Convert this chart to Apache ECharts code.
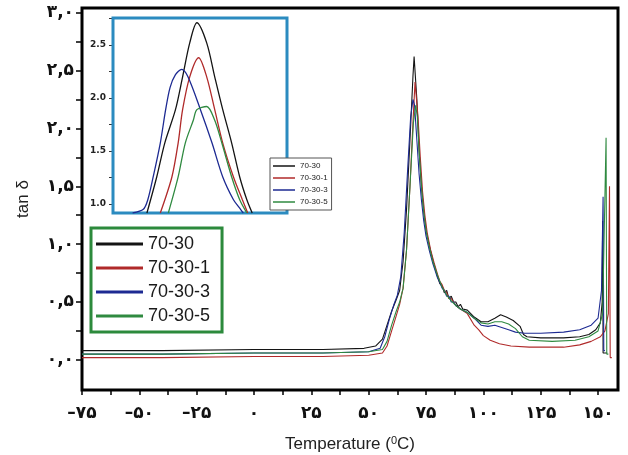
<!DOCTYPE html>
<html>
<head>
<meta charset="utf-8">
<script src="https://cdn.jsdelivr.net/npm/echarts@6/dist/echarts.min.js"></script>
<style>
html, body { margin: 0; padding: 0; background: #fff; }
#chart { width: 628px; height: 455px; }
</style>
</head>
<body>
<div id="chart"></div>
<script>
// series names
var seriesNames = ['70-30', '70-30-1', '70-30-3', '70-30-5'];
var seriesColors = ['#141414', '#b02a2a', '#1d2a92', '#2f8a40'];

// main plot, [temperature, tan d]
var d7030 = [[-75,0.08],[-40,0.08],[0,0.09],[30,0.09],[48,0.1],[53,0.12],[56,0.18],[58,0.3],[60,0.42],[62,0.52],[63.5,0.6],[65,0.85],[66.5,1.3],[68,1.9],[69.3,2.45],[69.8,2.62],[70.4,2.62],[71,2.25],[72,1.8],[73,1.5],[74,1.28],[75,1.12],[76.5,0.98],[78,0.86],[80,0.72],[81,0.66],[82,0.64],[83,0.58],[84,0.6],[85,0.53],[86,0.55],[87,0.5],[88,0.5],[89,0.46],[90,0.48],[91,0.44],[93,0.43],[96,0.37],[99,0.33],[102,0.33],[105,0.36],[107.5,0.39],[110,0.37],[113,0.34],[116,0.29],[117.5,0.22],[119,0.2],[125,0.19],[135,0.19],[142,0.2],[146,0.22],[149,0.26],[151,0.32],[151.8,0.5],[152,1.2],[152.2,0.06],[154,0.06]];
var d70301 = [[-75,0.02],[-40,0.02],[0,0.03],[30,0.03],[50,0.04],[56,0.06],[58,0.12],[60,0.25],[62,0.38],[63.5,0.48],[65,0.62],[66.5,0.95],[68,1.5],[69.3,2.05],[70.2,2.4],[70.8,2.4],[71.5,2.1],[72.5,1.75],[73.5,1.45],[74.5,1.25],[75.5,1.1],[77,0.95],[78.5,0.84],[80,0.74],[81,0.68],[82,0.65],[83,0.6],[84,0.58],[85,0.53],[86,0.53],[88,0.47],[90,0.44],[93,0.4],[96,0.3],[98,0.26],[100,0.21],[103,0.17],[107,0.14],[112,0.12],[120,0.11],[135,0.11],[142,0.13],[147,0.16],[151,0.2],[153,0.25],[154.5,0.4],[155,1.5],[155.3,0.02],[156,0.02]];
var d70303 = [[-75,0.05],[-40,0.05],[0,0.06],[30,0.06],[50,0.07],[55,0.1],[57,0.2],[59,0.35],[61,0.48],[62.5,0.56],[64,0.72],[65.5,1.1],[67,1.65],[68.3,2.1],[69.3,2.25],[70,2.2],[71,1.9],[72,1.6],[73,1.38],[74,1.2],[75,1.07],[76.5,0.94],[78,0.83],[80,0.71],[81,0.67],[82,0.62],[83,0.6],[84,0.55],[85,0.55],[86,0.5],[87,0.5],[88,0.47],[90,0.44],[93,0.41],[96,0.36],[99,0.3],[102,0.29],[105,0.3],[108,0.28],[111,0.26],[114,0.24],[118,0.23],[125,0.23],[135,0.24],[142,0.26],[147,0.3],[150,0.36],[151.5,0.6],[152.2,1.41],[152.5,0.08],[153,0.08]];
var d70305 = [[-75,0.05],[-40,0.05],[0,0.06],[30,0.06],[50,0.07],[56,0.09],[58,0.16],[60,0.3],[62,0.42],[63.5,0.5],[65,0.62],[66.5,0.95],[68,1.5],[69.5,2.05],[70.5,2.2],[71.2,2.1],[72,1.8],[73,1.5],[74,1.28],[75,1.12],[76.5,0.97],[78,0.85],[80,0.73],[82,0.63],[84,0.56],[86,0.51],[88,0.47],[90,0.44],[93,0.41],[96,0.36],[99,0.32],[102,0.31],[105,0.33],[108,0.33],[111,0.31],[114,0.27],[117,0.2],[120,0.17],[130,0.16],[140,0.17],[146,0.2],[150,0.25],[152,0.4],[153.5,1.92],[153.8,0.05],[154.5,0.05]];

// inset plot (zoom on the peak)
var i7030 = [[64.3,0.915],[65.4,1.255],[66.3,1.575],[67.5,1.89],[68.3,2.2],[69.1,2.52],[69.9,2.71],[71.0,2.52],[71.9,2.2],[72.8,1.89],[73.8,1.575],[74.7,1.255],[75.5,1.04],[76.1,0.915]];
var i70301 = [[65.8,0.915],[67.1,1.255],[67.8,1.575],[68.3,1.89],[69.1,2.2],[70.1,2.38],[71.0,2.2],[71.9,1.89],[72.8,1.575],[74.0,1.255],[75.0,1.04],[75.6,0.915]];
var i70303 = [[62.7,0.915],[63.9,0.95],[64.4,1.04],[65.0,1.255],[65.8,1.575],[66.4,1.89],[66.9,2.1],[67.5,2.22],[68.2,2.27],[68.9,2.2],[70.3,1.89],[71.6,1.575],[72.8,1.255],[74.0,1.04],[74.7,0.96],[75.1,0.915]];
var i70305 = [[66.7,0.915],[67.8,1.255],[68.6,1.575],[69.5,1.79],[69.9,1.89],[71.0,1.92],[71.9,1.79],[72.7,1.575],[73.8,1.255],[74.7,1.04],[75.5,0.915]];

var xTicks = [-75,-62.5,-50,-37.5,-25,-12.5,0,12.5,25,37.5,50,62.5,75,87.5,100,112.5,125,137.5,150];
var xLabels = [-75,-50,-25,0,25,50,75,100,125,150];
var yTicks = [0,0.25,0.5,0.75,1,1.25,1.5,1.75,2,2.25,2.5,2.75,3];
var yLabels = [0,0.5,1,1.5,2,2.5,3];
var insetTicks = [1,1.25,1.5,1.75,2,2.25,2.5,2.75];
var insetLabels = [1,1.5,2,2.5];

var faDigits = ['۰','۱','۲','۳','۴','۵','۶','۷','۸','۹'];
function toFa(s) {
    return String(s).replace(/[0-9]/g, function (c) { return faDigits[+c]; });
}

var chart = echarts.init(document.getElementById('chart'));

var mainData = [d7030, d70301, d70303, d70305];
var insetData = [i7030, i70301, i70303, i70305];
var series = [];
mainData.forEach(function (d, i) {
    series.push({
        name: seriesNames[i], type: 'line', xAxisIndex: 0, yAxisIndex: 0,
        data: d, showSymbol: false, symbol: 'none',
        lineStyle: { color: seriesColors[i], width: 1.1 },
        itemStyle: { color: seriesColors[i] }
    });
});
insetData.forEach(function (d, i) {
    series.push({
        name: seriesNames[i], type: 'line', xAxisIndex: 1, yAxisIndex: 1,
        data: d, showSymbol: false, symbol: 'none', smooth: 0.3,
        lineStyle: { color: seriesColors[i], width: 1.3 },
        itemStyle: { color: seriesColors[i] },
        z: 5
    });
});

var option = {
    animation: false,
    grid: [
        { left: 82, top: 8, width: 536, height: 382, outerBoundsMode: 'none', show: true, borderColor: '#000', borderWidth: 3, backgroundColor: 'transparent' },
        { left: 113, top: 18, width: 174, height: 195, outerBoundsMode: 'none', show: true, borderColor: '#2b8bc0', borderWidth: 3, backgroundColor: '#fff', z: 3 }
    ],
    xAxis: [
        {
            gridIndex: 0, type: 'value', min: -75, max: 158.7,
            name: '{t|Temperature (}{s|0}{t|C)}', nameLocation: 'middle', nameGap: 45,
            nameTextStyle: {
                rich: {
                    t: { fontFamily: 'Liberation Sans', fontSize: 17, color: '#222' },
                    s: { fontFamily: 'Liberation Sans', fontSize: 11, color: '#222', verticalAlign: 'top', padding: [0, 0, 8, 0] }
                }
            },
            axisLine: { show: false, onZero: false },
            splitLine: { show: false },
            axisTick: { show: true, inside: false, length: 5, customValues: xTicks, lineStyle: { color: '#000', width: 1.5 } },
            axisLabel: {
                customValues: xLabels, margin: 15,
                fontFamily: 'DejaVu Sans', fontWeight: 'bold', fontSize: 17, color: '#111',
                formatter: function (v) { return v < 0 ? '–' + toFa(-v) : toFa(v); }
            }
        },
        {
            gridIndex: 1, type: 'value', min: 60.5, max: 80,
            axisLine: { show: false, onZero: false }, axisTick: { show: false }, axisLabel: { show: false }, splitLine: { show: false }
        }
    ],
    yAxis: [
        {
            gridIndex: 0, type: 'value', min: -0.26, max: 3.04,
            name: 'tan δ', nameLocation: 'middle', nameGap: 50,
            nameTextStyle: { fontFamily: 'Liberation Sans', fontSize: 17, color: '#222' },
            axisLine: { show: false, onZero: false },
            splitLine: { show: false },
            axisTick: { show: true, inside: false, length: 6, customValues: yTicks, lineStyle: { color: '#000', width: 1.5 } },
            axisLabel: {
                customValues: yLabels, margin: 8,
                fontFamily: 'DejaVu Sans', fontWeight: 'bold', fontSize: 17, color: '#111',
                formatter: function (v) { return toFa(v.toFixed(1)).replace('.', ','); }
            }
        },
        {
            gridIndex: 1, type: 'value', min: 0.915, max: 2.755,
            axisLine: { show: false, onZero: false },
            splitLine: { show: false },
            axisTick: { show: true, inside: false, length: 4, customValues: insetTicks, lineStyle: { color: '#333', width: 1 } },
            axisLabel: {
                customValues: insetLabels, margin: 7,
                fontFamily: 'DejaVu Sans', fontWeight: 'bold', fontSize: 9, color: '#222',
                formatter: function (v) { return v.toFixed(1); }
            }
        }
    ],
    legend: [
        {
            data: seriesNames, orient: 'vertical', left: 91, top: 228,
            padding: [7, 12, 7, 5], itemGap: 6, itemWidth: 47, itemHeight: 3,
            icon: 'rect', borderColor: '#2c8a3c', borderWidth: 3, backgroundColor: '#fff',
            selectedMode: false,
            textStyle: { fontFamily: 'Liberation Sans', fontSize: 18, color: '#1a1a1a' }
        },
        {
            data: seriesNames, orient: 'vertical', left: 270, top: 158,
            padding: [4, 4, 4, 3], itemGap: 4, itemWidth: 22, itemHeight: 1.5,
            icon: 'rect', borderColor: '#555', borderWidth: 1, backgroundColor: '#fff',
            selectedMode: false,
            textStyle: { fontFamily: 'Liberation Sans', fontSize: 8, color: '#222' }
        }
    ],
    series: series
};
chart.setOption(option);
</script>
</body>
</html>
